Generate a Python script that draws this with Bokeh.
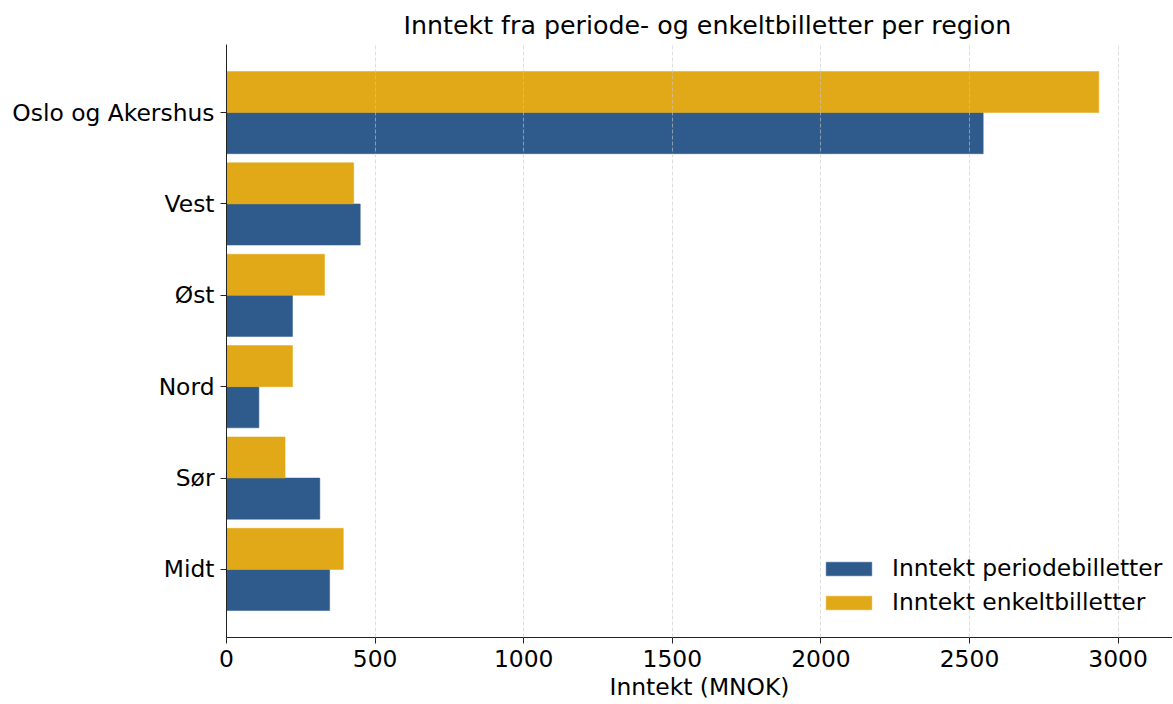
import numpy as np
from bokeh.plotting import figure
from bokeh.models import Range1d, FixedTicker, ColumnDataSource, Legend, LegendItem
from bokeh.embed import file_html
from bokeh.resources import INLINE

regions = ["Oslo og Akershus", "Vest", "Øst", "Nord", "Sør", "Midt"]
periode = [2546, 450, 222, 109, 314, 347]
enkelt = [2935, 428, 330, 222, 197, 393]
x_ticks = [0, 500, 1000, 1500, 2000, 2500, 3000]

BLUE = "#2e5a8c"
GOLD = "#e1a817"
FONT = "DejaVu Sans"
LBL = "23.4px"

n = len(regions)
pos = np.arange(n)[::-1].astype(float)  # Oslo at top
bar_h = 0.45

src = ColumnDataSource(dict(
    y_per=pos - bar_h / 2,
    y_enk=pos + bar_h / 2,
    periode=periode,
    enkelt=enkelt,
))

p = figure(width=1172, height=703, output_backend="svg", toolbar_location=None,
           x_range=Range1d(0, 3183), y_range=Range1d(-0.745, n - 1 + 0.745),
           min_border_left=226, min_border_right=0, min_border_top=44,
           min_border_bottom=63)

r_per = p.hbar(y="y_per", left=0, right="periode", height=bar_h, source=src,
               fill_color=BLUE, line_color=BLUE, line_width=0.5)
r_enk = p.hbar(y="y_enk", left=0, right="enkelt", height=bar_h, source=src,
               fill_color=GOLD, line_color=GOLD, line_width=0.5)

p.title.text = "Inntekt fra periode- og enkeltbilletter per region"
p.title.align = "left"
p.title.offset = 177
p.title.text_font = FONT
p.title.text_font_size = "25.3px"
p.title.text_font_style = "normal"
p.title.text_color = "#000000"

p.outline_line_color = None

p.xaxis.ticker = FixedTicker(ticks=x_ticks)
p.xaxis.axis_label = "Inntekt (MNOK)"
p.xaxis.axis_label_text_font = FONT
p.xaxis.axis_label_text_font_size = LBL
p.xaxis.axis_label_text_font_style = "normal"
p.xaxis.axis_label_text_color = "#000000"
p.xaxis.axis_label_standoff = 3
p.xaxis.major_label_standoff = 6
p.xaxis.minor_tick_line_color = None

p.yaxis.ticker = FixedTicker(ticks=list(pos))
p.yaxis.major_label_overrides = {float(v): r for v, r in zip(pos, regions)}
p.yaxis.minor_tick_line_color = None
p.yaxis.major_label_standoff = 6

for ax in (p.xaxis, p.yaxis):
    ax.major_label_text_font = FONT
    ax.major_label_text_font_size = LBL
    ax.major_label_text_color = "#000000"
    ax.axis_line_color = "#222222"
    ax.major_tick_line_color = "#222222"
    ax.major_tick_out = 6
    ax.major_tick_in = 0

p.ygrid.grid_line_color = None
p.xgrid.ticker = FixedTicker(ticks=x_ticks)
p.xgrid.grid_line_color = "#c8c8c8"
p.xgrid.grid_line_alpha = 0.6
p.xgrid.grid_line_dash = "4 2"
p.xgrid.level = "overlay"

legend = Legend(items=[
    LegendItem(label="Inntekt periodebilletter", renderers=[r_per]),
    LegendItem(label="Inntekt enkeltbilletter", renderers=[r_enk]),
], location=(588, 15))
legend.label_text_font = FONT
legend.label_text_font_size = LBL
legend.label_text_color = "#000000"
legend.glyph_width = 57
legend.glyph_height = 17
legend.label_height = 28
legend.spacing = 6
legend.margin = 0
legend.padding = 6
legend.label_standoff = 15
legend.border_line_alpha = 0
legend.background_fill_alpha = 0
p.add_layout(legend)

open("out.html", "w").write(file_html(p, INLINE))
